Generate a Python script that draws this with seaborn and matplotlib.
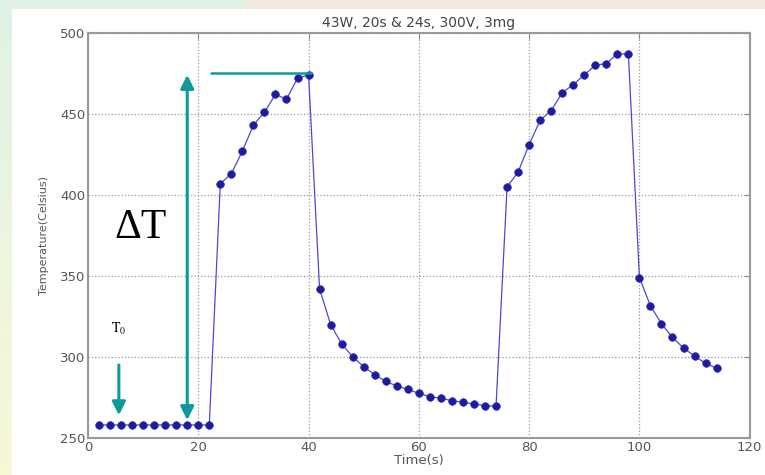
import numpy as np
import pandas as pd
import matplotlib
matplotlib.use('Agg')
import matplotlib.pyplot as plt
import seaborn as sns
from matplotlib.patches import Rectangle

# dados
tempo = [2, 4, 6, 8, 10, 12, 14, 16, 18, 20, 22,
         24, 26, 28, 30, 32, 34, 36, 38, 40,
         42, 44, 46, 48, 50, 52, 54, 56, 58, 60, 62, 64, 66, 68, 70, 72, 74,
         76, 78, 80, 82, 84, 86, 88, 90, 92, 94, 96, 98,
         100, 102, 104, 106, 108, 110, 112, 114]
temperatura = [258, 258, 258, 258, 258, 258, 258, 258, 258, 258, 258,
               407, 413, 427, 443, 451, 462, 459, 472, 474,
               342, 320, 308, 300, 294, 289, 285, 282, 280, 277.5, 275.5, 274.5, 273, 272, 271, 270, 269.5,
               405, 414, 431, 446, 452, 463, 468, 474, 480, 481, 487, 487,
               349, 331.5, 320.5, 312, 305.5, 300.5, 296, 293]

titulo = '43W, 20s & 24s, 300V, 3mg'
x_ticks = [0, 20, 40, 60, 80, 100, 120]
y_ticks = [250, 300, 350, 400, 450, 500]

df = pd.DataFrame({'tempo': tempo, 'temperatura': temperatura})

sns.set_style('white')
plt.rcParams['font.family'] = ['DejaVu Sans']
plt.rcParams['mathtext.fontset'] = 'stix'

fig = plt.figure(figsize=(7.65, 4.75), dpi=100)

# fundo com faixa colorida (esquerda e topo)
bg = fig.add_axes([0, 0, 1, 1], zorder=-5)
grad = np.linspace(0, 1, 100).reshape(-1, 1)
topo = np.array([0.878, 0.949, 0.902])
base = np.array([0.973, 0.973, 0.847])
img = topo + (base - topo) * grad[:, :, None]
bg.imshow(img, aspect='auto', extent=[0, 1, 0, 1], origin='upper')
bg.add_patch(Rectangle((245 / 765, 1 - 9 / 475), 1, 1, color='#f2e8de', lw=0))
bg.add_patch(Rectangle((12 / 765, 0), 1, 1 - 9 / 475, color='white', lw=0))
bg.set_xlim(0, 1)
bg.set_ylim(0, 1)
bg.axis('off')

ax = fig.add_axes([0.115, 0.078, 0.865, 0.853])
sns.lineplot(data=df, x='tempo', y='temperatura', ax=ax, color='#4a4ad0', lw=0.9,
             marker='o', markersize=5.5, markerfacecolor='#1c1c9c',
             markeredgecolor='#3030b0', markeredgewidth=0.5)

ax.set_xlim(0, 120)
ax.set_ylim(250, 500)
ax.set_xticks(x_ticks)
ax.set_yticks(y_ticks)
ax.grid(True, linestyle=':', color='#999999', lw=0.9)
ax.tick_params(direction='in', top=True, right=True, length=4, color='#888888',
               labelcolor='#555555', labelsize=9.5, pad=2)
for s in ax.spines.values():
    s.set_color('#999999')
    s.set_linewidth(1.5)

ax.set_title(titulo, fontsize=10, color='#444444', pad=4)
ax.set_xlabel('Time(s)', fontsize=9.5, color='#555555', labelpad=0)
ax.set_ylabel('Temperature(Celsius)', fontsize=8, color='#555555', labelpad=8)

# anotações
teal = '#0e9a9a'
ax.annotate('', xy=(18, 474), xytext=(18, 261),
            arrowprops=dict(arrowstyle='<|-|>', color=teal, lw=2.2,
                            mutation_scale=20, shrinkA=0, shrinkB=0))
ax.plot([22.3, 40.5], [475, 475], color=teal, lw=1.8)
ax.annotate('', xy=(5.6, 264), xytext=(5.6, 295),
            arrowprops=dict(arrowstyle='-|>', color=teal, lw=2.2,
                            mutation_scale=20, shrinkA=0, shrinkB=0))
ax.text(9.6, 380, 'ΔT', fontsize=30, ha='center', va='center',
        family='Liberation Serif', color='black')
ax.text(5.6, 317, r'$\mathrm{T_0}$', fontsize=10, ha='center', va='center',
        color='black')

fig.savefig('out.png', dpi=100)
